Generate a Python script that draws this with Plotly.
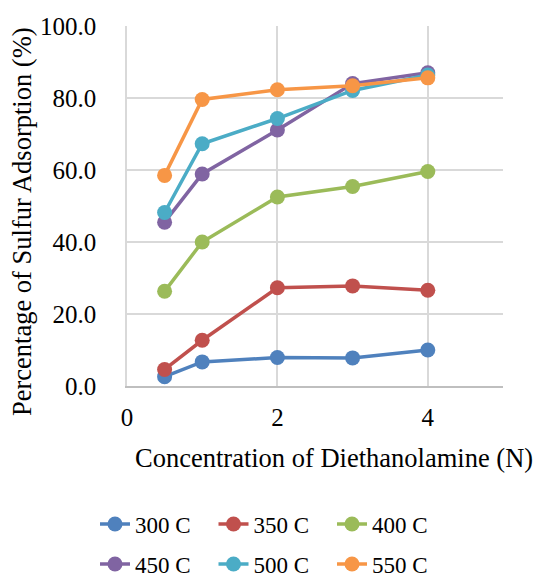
import plotly.graph_objects as go

x_vals = [0.5, 1, 2, 3, 4]
series_names = ["300 C", "350 C", "400 C", "450 C", "500 C", "550 C"]
s300 = [2.6, 6.7, 7.9, 7.8, 10.0]
s350 = [4.6, 12.7, 27.3, 27.8, 26.6]
s400 = [26.3, 40.0, 52.5, 55.4, 59.6]
s450 = [45.5, 58.9, 71.1, 84.0, 87.0]
s500 = [48.2, 67.3, 74.3, 82.1, 86.4]
s550 = [58.5, 79.6, 82.3, 83.4, 85.6]
colors = ["#4F81BD", "#C0504D", "#9BBB59", "#8064A2", "#4BACC6", "#F79646"]
y_ticks = [0, 20, 40, 60, 80, 100]
y_ticklabels = ["0.0", "20.0", "40.0", "60.0", "80.0", "100.0"]
x_ticks = [0, 2, 4]

font = "Liberation Serif"
fig = go.Figure()
for i, (name, ys, c) in enumerate(zip(series_names, [s300, s350, s400, s450, s500, s550], colors)):
    fig.add_trace(go.Scatter(x=x_vals, y=ys, name=name, mode="lines+markers",
                             line=dict(color=c, width=3.5),
                             marker=dict(color=c, size=15),
                             legend="legend" if i < 3 else "legend2"))

L = 127; R = 503; T = 26; B = 386; W = 537; H = 577
pw = R - L; ph = B - T

def px_x(p):
    return (p - L) / pw

def px_y(p):
    return (B - p) / ph

leg_common = dict(orientation="h", xanchor="left", yanchor="middle",
                  entrywidth=73.5, font=dict(size=23, family=font, color="black"),
                  bgcolor="rgba(0,0,0,0)")
fig.update_layout(
    width=W, height=H,
    margin=dict(l=L, r=W - R, t=T, b=H - B, autoexpand=False),
    paper_bgcolor="white", plot_bgcolor="white",
    font=dict(family=font, size=25, color="black"),
    showlegend=True,
    legend=dict(x=px_x(95), y=px_y(524), **leg_common),
    legend2=dict(x=px_x(95), y=px_y(564), **leg_common),
    annotations=[
        dict(text="Concentration of Diethanolamine (N)", xref="paper", yref="paper",
             x=px_x(334), y=px_y(458), xanchor="center", yanchor="middle",
             showarrow=False, font=dict(size=26.5, family=font, color="black")),
        dict(text="Percentage of Sulfur Adsorption (%)", xref="paper", yref="paper",
             x=px_x(22), y=px_y(222), xanchor="center", yanchor="middle", textangle=-90,
             showarrow=False, font=dict(size=26.5, family=font, color="black")),
    ],
)
fig.update_xaxes(range=[0, 5], tickvals=x_ticks, ticktext=[str(v) for v in x_ticks],
                 showgrid=True, gridcolor="#D9D9D9", gridwidth=1.5,
                 showline=True, linecolor="#BFBFBF", linewidth=2,
                 zeroline=False, ticks="outside", ticklen=8, tickcolor="rgba(0,0,0,0)",
                 tickfont=dict(size=25, family=font))
fig.update_yaxes(range=[0, 100], tickvals=y_ticks, ticktext=y_ticklabels,
                 showgrid=True, gridcolor="#D9D9D9", gridwidth=1.5,
                 showline=True, linecolor="#D9D9D9", linewidth=1.5,
                 zeroline=False, ticks="", ticklabelstandoff=24,
                 tickfont=dict(size=25, family=font))

fig.write_html("out.html")
